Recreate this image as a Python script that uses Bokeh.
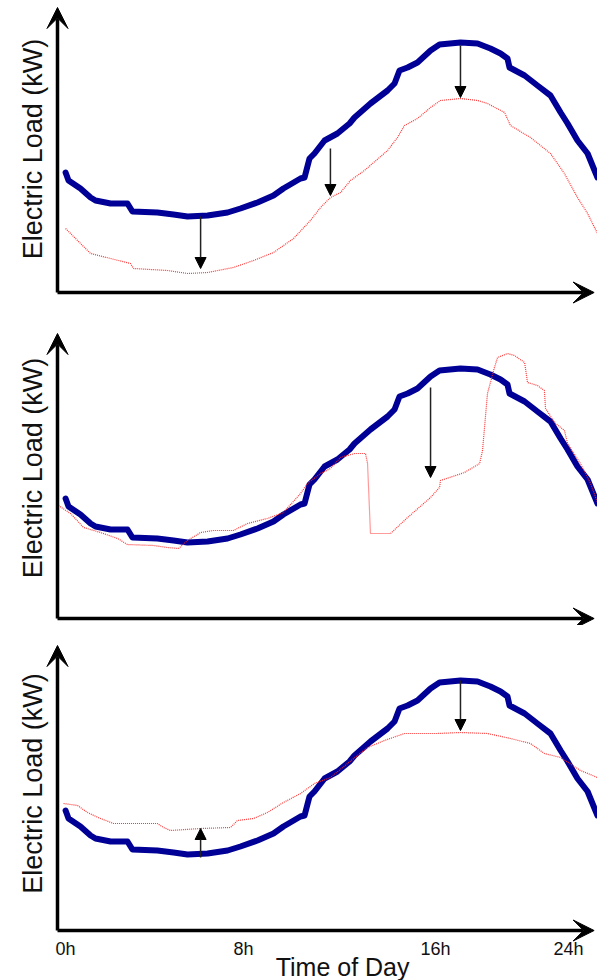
import math
from bokeh.plotting import figure
from bokeh.layouts import column
from bokeh.models import Range1d, Arrow, VeeHead, NormalHead, ColumnDataSource, Label
from bokeh.embed import file_html
from bokeh.resources import INLINE
from bokeh.core.properties import value

# ---------------- data (hours of day, load in arbitrary kW units) ----------------
base_hours = [0.36, 0.49, 1.02, 1.47, 1.69, 2.36, 3.11, 3.33, 4.44, 5.16, 5.78, 6.67, 7.56,
              8.13, 8.89, 9.60, 10.04, 10.80, 10.98, 11.20, 11.42, 11.87, 12.44, 12.98, 13.20,
              13.91, 14.67, 14.98, 15.20, 15.56, 16.00, 16.58, 16.98, 17.91, 18.67, 19.24,
              19.69, 20.00, 20.09, 20.76, 21.33, 21.91, 22.36, 22.67, 23.11, 23.56, 23.87, 24.00]
base_load = [48.0, 44.8, 41.6, 38.0, 36.8, 35.6, 35.6, 32.4, 32.0, 31.2, 30.4, 30.8, 32.0,
             33.6, 36.0, 38.8, 41.6, 45.6, 46.0, 53.6, 55.6, 60.8, 63.6, 67.6, 70.0,
             75.6, 80.8, 83.6, 88.8, 90.0, 92.0, 96.8, 99.2, 100.0, 99.6, 97.6,
             95.6, 93.6, 90.0, 86.8, 82.8, 78.8, 72.0, 67.6, 60.8, 55.6, 48.8, 46.0]

# panel 1: load reduced all day (energy efficiency)
eff_hours = [0.36, 0.89, 1.47, 2.36, 3.24, 3.38, 4.89, 5.78, 6.67, 7.82, 8.71, 9.60, 10.49,
             11.24, 11.69, 12.13, 12.58, 13.02, 13.64, 14.67, 15.11, 15.42, 16.00, 16.58,
             17.02, 17.91, 18.67, 19.11, 19.87, 20.13, 21.02, 21.91, 22.53, 23.11, 23.56, 24.00]
eff_load = [25.6, 20.8, 15.6, 13.6, 11.6, 9.6, 8.8, 7.6, 8.0, 10.0, 12.8, 16.0, 21.6,
            28.8, 34.0, 38.0, 40.0, 44.8, 48.8, 56.8, 62.0, 66.8, 69.6, 74.0,
            76.8, 77.6, 76.8, 75.6, 72.0, 66.8, 62.0, 55.6, 47.6, 38.0, 31.6, 23.6]

# panel 2: demand response event (load shed, then rebound)
dr_hours = [0.04, 0.58, 1.16, 1.91, 2.67, 3.11, 4.27, 4.89, 5.38, 5.78, 6.36, 6.93, 7.82,
            8.44, 9.33, 10.04, 10.80, 11.11, 11.69, 12.13, 12.58, 13.20, 13.69, 13.78,
            13.91, 14.80, 15.56, 16.58, 16.98, 17.02, 18.09, 18.76, 18.89, 19.11, 19.42,
            19.56, 20.00, 20.31, 20.76, 20.89, 21.33, 21.64, 21.69, 22.09, 22.53, 22.67,
            23.24, 23.69, 24.00]
dr_load = [45.2, 42.0, 36.4, 34.4, 32.0, 29.6, 29.2, 28.4, 28.0, 31.2, 34.4, 35.2, 35.2,
           38.0, 40.0, 42.4, 50.0, 54.0, 58.0, 60.0, 64.4, 66.0, 66.0, 62.0,
           34.0, 34.0, 40.4, 48.4, 52.4, 55.2, 58.4, 62.0, 67.2, 90.0, 100.4,
           104.4, 106.0, 105.2, 102.4, 94.4, 93.2, 91.2, 84.0, 78.4, 75.2, 70.0,
           62.0, 54.0, 46.4]

# panel 3: load shifting (peak clipped, valley filled)
shift_hours = [0.27, 0.89, 1.33, 1.91, 2.49, 4.44, 4.71, 5.02, 6.36, 7.69, 8.00, 8.71, 9.33,
               10.04, 10.80, 11.42, 12.13, 12.89, 13.78, 14.53, 15.42, 16.89, 17.91, 19.11,
               20.13, 21.02, 21.64, 22.36, 23.24, 24.00]
shift_load = [50.8, 50.0, 47.2, 44.8, 42.8, 42.8, 41.2, 40.0, 40.8, 41.2, 44.0, 44.8, 47.2,
              51.2, 54.8, 58.8, 61.2, 66.8, 73.2, 76.0, 78.8, 78.8, 79.2, 78.8,
              76.8, 74.8, 70.8, 69.2, 64.0, 61.2]

# change arrows (hour, load at start, load at tip)
arrows1_hour = [6.36, 12.13, 17.91]
arrows1_from = [30.4, 57.6, 98.8]
arrows1_to = [9.6, 38.8, 78.0]
arrows2_hour = [16.58]
arrows2_from = [92.4]
arrows2_to = [56.4]
arrows3_hour = [6.36, 17.91]
arrows3_from = [29.2, 100.0]
arrows3_to = [40.8, 80.0]

tick_hours = [0, 8, 16, 24]
tick_labels = ["0h", "8h", "16h", "24h"]
y_label = "Electric Load (kW)"
x_label = "Time of Day"

# ---------------- layout constants ----------------
W = 597
PX_PER_H = 22.5
PX_PER_KW = 2.5
ORIGIN_X = 57
FONT = "Liberation Sans"
BLUE = "#000096"
RED = "#ff2020"


def make_panel(height, axis_from_top, red_h, red_l, ah, af, at, ylab_y):
    p = figure(width=W, height=height, output_backend="svg", toolbar_location=None,
               x_axis_location=None, y_axis_location=None,
               x_range=Range1d(-ORIGIN_X / PX_PER_H, (W - ORIGIN_X) / PX_PER_H),
               y_range=Range1d(-(height - axis_from_top) / PX_PER_KW, axis_from_top / PX_PER_KW),
               min_border_left=0, min_border_right=0, min_border_top=0, min_border_bottom=0)
    p.outline_line_color = None
    p.xgrid.visible = False
    p.ygrid.visible = False
    p.background_fill_color = "white"
    p.border_fill_color = "white"

    # axes drawn as arrows
    p.add_layout(Arrow(x_start=0, y_start=0, x_end=0, y_end=114, line_width=3.5, line_color="black",
                       end=VeeHead(size=21, fill_color="black", line_color="black", line_width=1)))
    p.add_layout(Arrow(x_start=0, y_start=0, x_end=23.85, y_end=0, line_width=3.5, line_color="black",
                       end=VeeHead(size=21, fill_color="black", line_color="black", line_width=1)))

    p.line(base_hours, base_load, line_color=BLUE, line_width=6, line_join="round", line_cap="round")
    p.line(red_h, red_l, line_color=RED, line_width=1.2, line_dash="1 1", line_alpha=0.9)

    for x, a, b in zip(ah, af, at):
        p.add_layout(Arrow(x_start=x, y_start=a, x_end=x, y_end=b, line_width=1.5, line_color="#222222",
                           end=NormalHead(size=11, fill_color="black", line_color="black", line_width=1)))

    p.add_layout(Label(x=-1.09, y=ylab_y, text=y_label, angle=math.pi / 2, text_align="center",
                       text_baseline="middle", text_font=FONT, text_font_size="27px",
                       text_color="#111111"))
    return p


p1 = make_panel(310, 292, eff_hours, eff_load, arrows1_hour, arrows1_from, arrows1_to, 57.4)
p2 = make_panel(315, 308, dr_hours, dr_load, arrows2_hour, arrows2_from, arrows2_to, 60.2)
p3 = make_panel(355, 305, shift_hours, shift_load, arrows3_hour, arrows3_from, arrows3_to, 58.8)

tick_src = ColumnDataSource(dict(x=tick_hours, y=[-7.2] * len(tick_hours), text=tick_labels,
                                 align=["left", "left", "left", "right"],
                                 dx=[-2, -4, 3, -14]))
p3.text(x="x", y="y", text="text", source=tick_src, text_align="align", x_offset="dx",
        text_baseline="middle", text_font=value(FONT), text_font_size="18px", text_color="#111111")
p3.text(x=[12.67], y=[-14.6], text=[x_label], text_align="center", text_baseline="alphabetic",
        text_font=value(FONT), text_font_size="25px", text_color="#111111")

layout = column(p1, p2, p3, spacing=0)
open("out.html", "w").write(file_html(layout, INLINE))
